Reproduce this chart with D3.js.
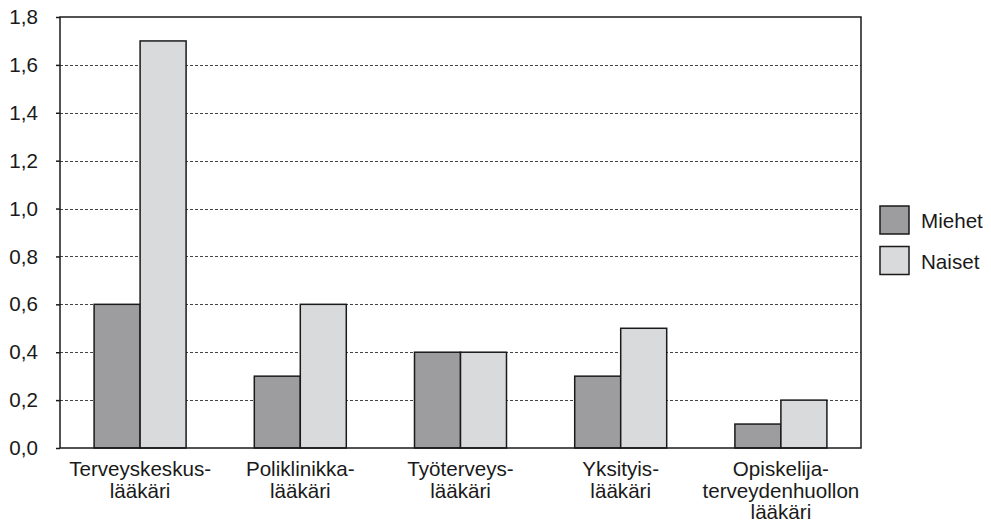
<!DOCTYPE html>
<html>
<head>
<meta charset="utf-8">
<script src="https://cdn.jsdelivr.net/npm/d3@7"></script>
<style>
    body { margin: 0; background: #fff; }
    text { font-family: "Liberation Sans", Arial, sans-serif; fill: #1a1a1a; }
</style>
</head>
<body>
<div id="chart"></div>
<script>
// data
const categories = [
    ["Terveyskeskus-", "lääkäri"],
    ["Poliklinikka-", "lääkäri"],
    ["Työterveys-", "lääkäri"],
    ["Yksityis-", "lääkäri"],
    ["Opiskelija-", "terveydenhuollon", "lääkäri"]
];
const seriesNames = ["Miehet", "Naiset"];
const miehet = [0.6, 0.3, 0.4, 0.3, 0.1];
const naiset = [1.7, 0.6, 0.4, 0.5, 0.2];
const yTicks = [0, 0.2, 0.4, 0.6, 0.8, 1.0, 1.2, 1.4, 1.6, 1.8];
const colors = ["#9d9d9f", "#d9dadc"];

const width = 991, height = 522;
const margin = { top: 17, right: 130, bottom: 74, left: 60 };
const plotW = width - margin.left - margin.right;
const plotH = height - margin.top - margin.bottom;
const fontSize = 20.6;

const svg = d3.select("#chart").append("svg")
    .attr("width", width)
    .attr("height", height);

const g = svg.append("g").attr("transform", `translate(${margin.left},${margin.top})`);

const x0 = d3.scaleBand().domain(d3.range(categories.length)).range([0, plotW]);
const x1 = d3.scaleBand().domain(seriesNames).range([x0.bandwidth() / 2 - 46, x0.bandwidth() / 2 + 46]);
const y = d3.scaleLinear().domain([0, 1.8]).range([plotH, 0]);

const fmt = d => d3.format(".1f")(d).replace(".", ",");

// gridlines
g.append("g")
    .selectAll("line")
    .data(yTicks.filter(d => d > 0 && d < 1.8))
    .enter()
    .append("line")
    .attr("x1", 0)
    .attr("x2", plotW)
    .attr("y1", d => Math.round(y(d)) + 0.5)
    .attr("y2", d => Math.round(y(d)) + 0.5)
    .attr("stroke", "#444")
    .attr("stroke-width", 1)
    .attr("stroke-dasharray", "3,2");

// bars
const rows = categories.map((c, i) => [miehet[i], naiset[i]]);
g.append("g")
    .selectAll("g")
    .data(rows)
    .enter()
    .append("g")
    .attr("transform", (d, i) => `translate(${x0(i)},0)`)
    .selectAll("rect")
    .data(d => d.map((v, j) => ({ v: v, s: seriesNames[j], j: j })))
    .enter()
    .append("rect")
    .attr("x", d => x1(d.s))
    .attr("y", d => y(d.v))
    .attr("width", x1.bandwidth())
    .attr("height", d => plotH - y(d.v))
    .attr("fill", d => colors[d.j])
    .attr("stroke", "#1a1a1a")
    .attr("stroke-width", 1.5);

// frame
g.append("rect")
    .attr("x", 0).attr("y", 0)
    .attr("width", plotW).attr("height", plotH)
    .attr("fill", "none")
    .attr("stroke", "#1a1a1a")
    .attr("stroke-width", 1.5);

// y axis
const yAxis = g.append("g")
    .call(d3.axisLeft(y).tickValues(yTicks).tickFormat(fmt).tickSize(4).tickPadding(18));
yAxis.select(".domain").remove();
yAxis.selectAll(".tick line").attr("stroke", "#1a1a1a").attr("stroke-width", 1.5);
yAxis.selectAll(".tick text").attr("font-size", fontSize).attr("fill", "#1a1a1a")
    .attr("font-family", "Liberation Sans, Arial, sans-serif");

// x labels
const xl = g.append("g")
    .selectAll("text")
    .data(categories)
    .enter()
    .append("text")
    .attr("x", (d, i) => x0(i) + x0.bandwidth() / 2)
    .attr("y", plotH + 28)
    .attr("text-anchor", "middle")
    .attr("font-size", fontSize);
xl.selectAll("tspan")
    .data(d => d)
    .enter()
    .append("tspan")
    .attr("x", function() { return this.parentNode.getAttribute("x"); })
    .attr("dy", (d, i) => i === 0 ? 0 : 21.5)
    .text(d => d);

// legend
const legend = svg.append("g").attr("transform", "translate(880,206)");
const li = legend.selectAll("g")
    .data(seriesNames)
    .enter()
    .append("g")
    .attr("transform", (d, i) => `translate(0,${i * 40.5})`);
li.append("rect")
    .attr("width", 29)
    .attr("height", 28)
    .attr("fill", (d, i) => colors[i])
    .attr("stroke", "#1a1a1a")
    .attr("stroke-width", 1.5);
li.append("text")
    .attr("x", 41)
    .attr("y", 22)
    .attr("font-size", fontSize)
    .text(d => d);
</script>
</body>
</html>
